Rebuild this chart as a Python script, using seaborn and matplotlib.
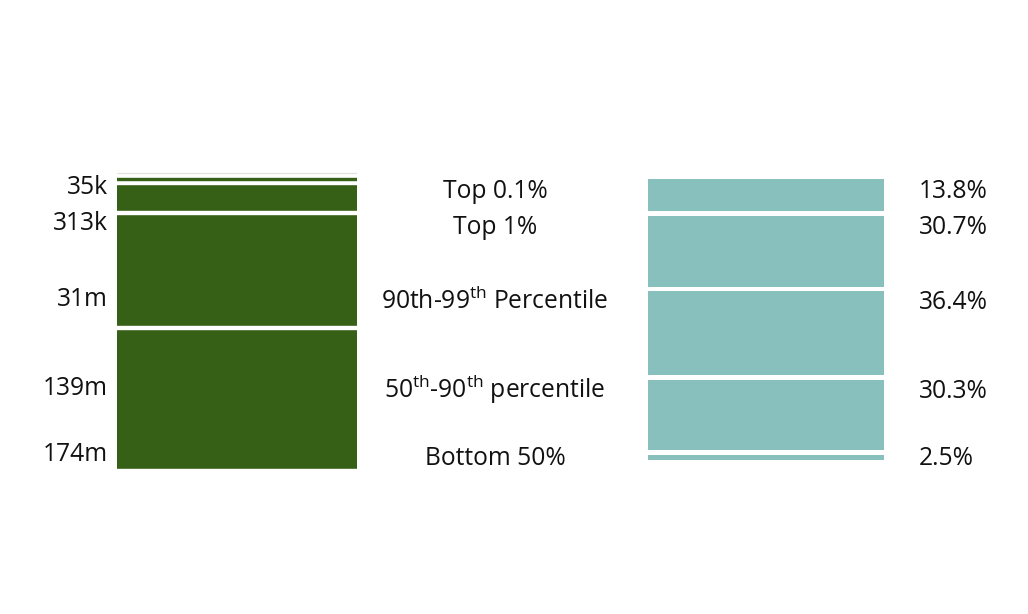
import matplotlib
matplotlib.use("Agg")
import matplotlib.pyplot as plt
import matplotlib.transforms as mtransforms
import seaborn as sns

# ---- data ----
groups = ["Top 0.1%", "Top 1%", "90th-99$^{\\mathrm{th}}$ Percentile",
          "50$^{\\mathrm{th}}$-90$^{\\mathrm{th}}$ percentile", "Bottom 50%"]
population_m = [0.035, 0.313, 31, 139, 174]
population_labels = ["35k", "313k", "31m", "139m", "174m"]
wealth_share = [13.8, 30.7, 36.4, 30.3, 2.5]
wealth_labels = ["13.8%", "30.7%", "36.4%", "30.3%", "2.5%"]

sns.set_theme(style="white")
plt.rcParams['font.family'] = ['Open Sans', 'DejaVu Sans']
plt.rcParams['mathtext.fontset'] = 'custom'
plt.rcParams['mathtext.rm'] = 'Open Sans'
plt.rcParams['mathtext.it'] = 'Open Sans:italic'
plt.rcParams['mathtext.bf'] = 'Open Sans:bold'

W, H = 1028, 614
fig = plt.figure(figsize=(W / 100, H / 100), dpi=100)
fig.patch.set_facecolor("white")

GREEN = "#356015"
TEAL = "#87C0BD"
TEXT = "#111111"
FS = 17.7


def add_axes_px(x0, x1, y0, y1):
    return fig.add_axes([x0 / W, 1 - y1 / H, (x1 - x0) / W, (y1 - y0) / H])


FRAME_TOP, FRAME_BOT = 140, 500

# ---- left bar: population ----
kL = 0.787      # px per million
edgeL = 1.6     # px
gapL = (4.4 + edgeL) / kL
topL = 173.3
axL = add_axes_px(117.3, 357.3, FRAME_TOP, FRAME_BOT)
bottomsL = []
acc = 0.0
for v in population_m:
    bottomsL.append(acc)
    acc += v + gapL
for v, b0 in zip(population_m, bottomsL):
    sns.barplot(x=[0], y=[v], bottom=b0, width=1.0, color=GREEN, saturation=1,
                errorbar=None, ax=axL, linewidth=edgeL * 0.72, edgecolor=GREEN)
axL.patches[0].set_facecolor("#dfe3d8")
axL.patches[0].set_edgecolor("#dfe3d8")
axL.patches[0].set_linewidth(0.9)
axL.patches[1].set_linewidth(2.4 * 0.72)
axL.set_xlim(-0.5, 0.5)
axL.set_ylim((FRAME_BOT - topL) / kL, -(topL - FRAME_TOP) / kL)
axL.axis("off")

# ---- right bar: wealth share ----
kR = 2.31       # px per percent
gapR = 4.6 / kR
topR = 179.3
axR = add_axes_px(648.3, 884.0, FRAME_TOP, FRAME_BOT)
bottomsR = []
acc = 0.0
for v in wealth_share:
    bottomsR.append(acc)
    acc += v + gapR
endR = bottomsR[-1] + wealth_share[-1]
for v, b0 in zip(wealth_share, bottomsR):
    sns.barplot(x=[0], y=[v], bottom=b0, width=1.0, color=TEAL, saturation=1,
                errorbar=None, ax=axR, linewidth=0)
axR.set_xlim(-0.5, 0.5)
axR.set_ylim((FRAME_BOT - topR) / kR, -(topR - FRAME_TOP) / kR)
axR.axis("off")

# ---- labels ----
trans = mtransforms.blended_transform_factory(fig.transFigure, axR.transData)
for i in range(len(groups)):
    yc = min(bottomsR[i] + 10 / kR, endR - 4 / kR)
    yb = yc + 8.2 / kR
    fig.text(495 / W, yb, groups[i], transform=trans, ha="center", va="baseline",
             fontsize=FS, color=TEXT)
    fig.text(919 / W, yb, wealth_labels[i], transform=trans, ha="left", va="baseline",
             fontsize=FS, color=TEXT)
    fig.text(108 / W, yb - 3.5 / kR, population_labels[i], transform=trans, ha="right",
             va="baseline", fontsize=FS, color=TEXT)

fig.savefig("out.png", dpi=100, facecolor="white")
